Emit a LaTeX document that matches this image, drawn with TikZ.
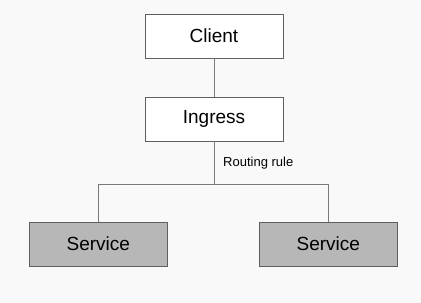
\documentclass[tikz,border=0pt]{standalone}
\usepackage{fontspec}
\setmainfont{Liberation Sans}
\usepackage{xcolor}
\definecolor{bgpage}{HTML}{F9F9F9}
\definecolor{svcfill}{HTML}{B7B7B7}
\definecolor{edge}{HTML}{5F5F5F}
\definecolor{wire}{HTML}{7A7A7A}
\usetikzlibrary{positioning}

\tikzset{
  box/.style={draw=edge, line width=0.9pt, fill=white, minimum width=138pt,
    minimum height=44pt, inner sep=0pt, font=\fontsize{19}{22}\selectfont},
  svcbox/.style={box, fill=svcfill},
  wirelink/.style={draw=wire, line width=1pt}
}

\begin{document}
\begin{tikzpicture}[x=1pt,y=-1pt]
  \fill[bgpage] (0,0) rectangle (421,303);
  \useasboundingbox (0,0) rectangle (421,303);
  % top of the tree
  \node[box] (client)  at (214,36)  {Client};
  \node[box] (ingress) at (214,119) {Ingress};
  % the two backends
  \node[svcbox] (svcleft)  at (98.3,244)  {Service};
  \node[svcbox] (svcright) at (328.3,244) {Service};
  \coordinate (split) at (214,184);
  \draw[wirelink] (client) -- (ingress);
  \draw[wirelink] (ingress) -- (split);
  \draw[wirelink] (split) -| (svcleft);
  \draw[wirelink] (split) -| (svcright);
  \node[anchor=west, inner sep=0pt, font=\fontsize{13}{15}\selectfont] (rule)
    at (223,163) {Routing rule};
\end{tikzpicture}
\end{document}
